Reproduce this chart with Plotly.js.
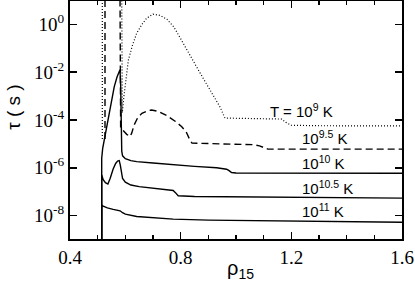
<!DOCTYPE html>
<html>
<head>
<meta charset="utf-8">
<script src="https://cdn.plot.ly/plotly-3.0.1.min.js"></script>
<style>html,body{margin:0;padding:0;background:#fff;}#chart{width:415px;height:285px;}</style>
</head>
<body>
<div id="chart"></div>
<script>
// rho_15 values and log10(tau / s)
const rhoT9 = [0.5168, 0.5168, null, 0.5869, 0.589, 0.595, 0.611, 0.625, 0.641, 0.66, 0.677, 0.70, 0.725, 0.75, 0.775, 0.798, 0.834, 0.871, 0.907, 0.943, 0.96, 1.0, 1.1, 1.165, 1.18, 1.20, 1.3, 1.6];
const logTauT9 = [-4.8, 1.5, null, 1.5, -3.7, -3.0, -1.49, -0.9, -0.37, 0.0, 0.26, 0.43, 0.38, 0.22, -0.1, -0.56, -1.32, -2.05, -2.76, -3.47, -3.92, -3.93, -3.95, -3.96, -4.1, -4.22, -4.24, -4.25];

const rhoT95 = [0.5265, 0.5265, null, 0.5807, 0.583, 0.593, 0.605, 0.617, 0.623, 0.632, 0.645, 0.66, 0.68, 0.695, 0.72, 0.75, 0.78, 0.804, 0.82, 0.834, 0.841, 0.95, 1.06, 1.085, 1.10, 1.115, 1.3, 1.6];
const logTauT95 = [-4.8, 1.5, null, 1.5, -4.35, -4.45, -4.6, -4.69, -4.55, -4.2, -3.9, -3.72, -3.62, -3.58, -3.64, -3.82, -4.05, -4.28, -4.5, -4.85, -4.97, -5.0, -5.03, -5.08, -5.15, -5.22, -5.22, -5.22];

const rhoT10 = [0.5146, 0.5146, 0.518, 0.524, 0.535, 0.5446, 0.552, 0.560, 0.570, 0.5807, 0.583, 0.585, 0.587, 0.590, 0.60, 0.62, 0.641, 0.70, 0.773, 0.85, 0.93, 0.966, 0.975, 0.984, 1.0, 1.2, 1.4, 1.6];
const logTauT10 = [-9.5, -5.6, -5.2, -4.83, -4.1, -3.58, -3.1, -2.6, -2.2, -1.9, -2.5, -4.8, -5.3, -5.5, -5.62, -5.7, -5.74, -5.8, -5.88, -5.94, -6.0, -6.06, -6.12, -6.2, -6.22, -6.23, -6.23, -6.23];

const rhoT105 = [0.5146, 0.5146, 0.520, 0.528, 0.537, 0.545, 0.556, 0.565, 0.572, 0.578, 0.582, 0.586, 0.590, 0.600, 0.62, 0.65, 0.713, 0.773, 0.782, 0.791, 0.85, 1.0, 1.2, 1.4, 1.6];
const logTauT105 = [-9.5, -6.3, -6.5, -6.62, -6.68, -6.45, -6.05, -5.82, -5.72, -5.70, -5.9, -6.2, -6.45, -6.6, -6.72, -6.79, -6.86, -6.95, -7.05, -7.17, -7.2, -7.22, -7.24, -7.26, -7.27];

const rhoT11 = [0.5146, 0.5146, 0.518, 0.535, 0.556, 0.575, 0.581, 0.590, 0.600, 0.641, 0.70, 0.773, 0.90, 1.10, 1.30, 1.60];
const logTauT11 = [-9.5, -7.55, -7.60, -7.68, -7.74, -7.78, -7.80, -7.88, -7.94, -8.04, -8.10, -8.15, -8.19, -8.22, -8.25, -8.28];

const curveLabels = ['T = 10<sup>9</sup> K', '10<sup>9.5</sup> K', '10<sup>10</sup> K', '10<sup>10.5</sup> K', '10<sup>11</sup> K'];
const yTickVals = [1e-8, 1e-6, 1e-4, 1e-2, 1];
const yTickText = ['10<sup>-8</sup>', '10<sup>-6</sup>', '10<sup>-4</sup>', '10<sup>-2</sup>', '10<sup>0</sup>'];
const xTickVals = [0.4, 0.8, 1.2, 1.6];
const xTickText = ['0.4', '0.8', '1.2', '1.6'];

const toTau = arr => arr.map(v => v === null ? null : Math.pow(10, v));

const mk = (x, lg, dash, w) => ({
  x: x, y: toTau(lg), type: 'scatter', mode: 'lines', connectgaps: false,
  line: {color: '#000', width: w, dash: dash}, hoverinfo: 'skip', showlegend: false
});

const traces = [
  mk(rhoT9, logTauT9, '1px,2px', 1.2),
  mk(rhoT95, logTauT95, '7px,4px', 1.4),
  mk(rhoT10, logTauT10, 'solid', 1.4),
  mk(rhoT105, logTauT105, 'solid', 1.4),
  mk(rhoT11, logTauT11, 'solid', 1.4)
];

const SANS = "'Liberation Sans', Arial, sans-serif";
const SERIF = "'Liberation Serif', 'Times New Roman', serif";

const labelX = [1.116, 1.231, 1.231, 1.231, 1.231];
const labelY = [-3.62, -4.75, -5.79, -6.84, -7.80];
const annotations = curveLabels.map((t, i) => ({
  x: labelX[i], y: labelY[i], xref: 'x', yref: 'y', text: t, showarrow: false,
  xanchor: 'left', yanchor: 'middle', font: {family: SANS, size: 15, color: '#000'}
}));
annotations.push({
  xref: 'paper', yref: 'paper', x: -0.169, y: 0.555, text: 'τ ( s )', textangle: -90, showarrow: false,
  xanchor: 'center', yanchor: 'middle', font: {family: SANS, size: 19, color: '#000'}
});
annotations.push({
  xref: 'paper', yref: 'paper', x: 0.515, y: -0.13, text: 'ρ<sub>15</sub>', showarrow: false,
  xanchor: 'center', yanchor: 'middle', font: {family: SANS, size: 20, color: '#000'}
});

const layout = {
  width: 415, height: 285,
  margin: {l: 70, r: 13, t: 1, b: 46, pad: 0},
  paper_bgcolor: '#fff', plot_bgcolor: '#fff',
  xaxis: {
    range: [0.4, 1.6], showgrid: false, zeroline: false,
    showline: true, linecolor: '#000', linewidth: 2, mirror: 'ticks',
    ticks: 'inside', ticklen: 7, tickwidth: 1.5, tickcolor: '#000',
    tickvals: xTickVals, ticktext: xTickText,
    tickfont: {family: SERIF, size: 19, color: '#000'},
    minor: {dtick: 0.1, tick0: 0.4, ticks: 'inside', ticklen: 4, tickwidth: 1.2, tickcolor: '#000', showgrid: false}
  },
  yaxis: {
    type: 'log', range: [-8.98, 0.98], showgrid: false, zeroline: false,
    showline: true, linecolor: '#000', linewidth: 2, mirror: 'ticks',
    ticks: 'inside', ticklen: 7, tickwidth: 1.5, tickcolor: '#000',
    tickvals: yTickVals, ticktext: yTickText,
    tickfont: {family: SERIF, size: 19, color: '#000'}
  },
  annotations: annotations
};

Plotly.newPlot('chart', traces, layout, {displayModeBar: false, staticPlot: true});
</script>
</body>
</html>
